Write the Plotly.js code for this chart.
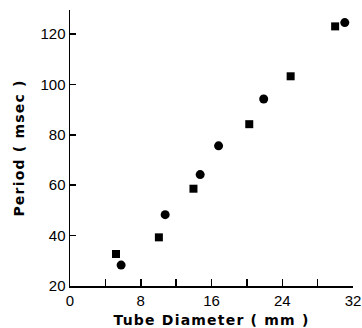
<!DOCTYPE html>
<html>
<head>
<meta charset="utf-8">
<script src="https://cdn.plot.ly/plotly-3.0.1.min.js"></script>
<style>
html,body{margin:0;padding:0;background:#fff;}
#chart{width:362px;height:328px;}
.xtitle,.ytitle{letter-spacing:1.2px;}
</style>
</head>
<body>
<div id="chart"></div>
<script>
// Square series
const squareX = [5.2, 10.05, 13.96, 20.27, 24.95, 29.98];
const squareY = [32.7, 39.3, 58.6, 84.2, 103.2, 123.0];
// Circle series
const circleX = [5.78, 10.76, 14.72, 16.8, 21.9, 31.07];
const circleY = [28.3, 48.3, 64.2, 75.6, 94.2, 124.5];
// Tick labels
const xTickVals = [0, 4, 8, 12, 16, 20, 24, 28, 32];
const xTickText = ['0', '', '8', '', '16', '', '24', '', '32'];
const yTickVals = [20, 40, 60, 80, 100, 120];
const yTickText = ['20', '40', '60', '80', '100', '120'];

const traces = [
  {x: squareX, y: squareY, type: 'scatter', mode: 'markers',
   marker: {symbol: 'square', size: 8, color: '#000'}},
  {x: circleX, y: circleY, type: 'scatter', mode: 'markers',
   marker: {symbol: 'circle', size: 9, color: '#000'}}
];

const tickFont = {family: 'Liberation Sans, Arial, sans-serif', size: 15, color: '#000'};
const titleFont = {family: 'DejaVu Sans, sans-serif', size: 14, color: '#000', weight: 'bold'};

const layout = {
  width: 362, height: 328,
  margin: {l: 70, r: 9, t: 10, b: 42},
  paper_bgcolor: '#fff', plot_bgcolor: '#fff',
  showlegend: false,
  xaxis: {
    range: [0, 32], tickvals: xTickVals, ticktext: xTickText,
    ticks: 'inside', ticklen: 7, tickwidth: 1.5, tickcolor: '#000',
    showline: true, linewidth: 1.5, linecolor: '#000',
    showgrid: false, zeroline: false, tickfont: tickFont,
    title: {text: 'Tube Diameter ( mm )', font: titleFont, standoff: 8}
  },
  yaxis: {
    range: [20, 129.5], tickvals: yTickVals, ticktext: yTickText,
    ticks: 'inside', ticklen: 6, tickwidth: 1.5, tickcolor: '#000',
    showline: true, linewidth: 1.5, linecolor: '#000',
    showgrid: false, zeroline: false, tickfont: tickFont,
    title: {text: 'Period ( msec )', font: titleFont, standoff: 12}
  }
};

Plotly.newPlot('chart', traces, layout, {displayModeBar: false, staticPlot: true});
</script>
</body>
</html>
